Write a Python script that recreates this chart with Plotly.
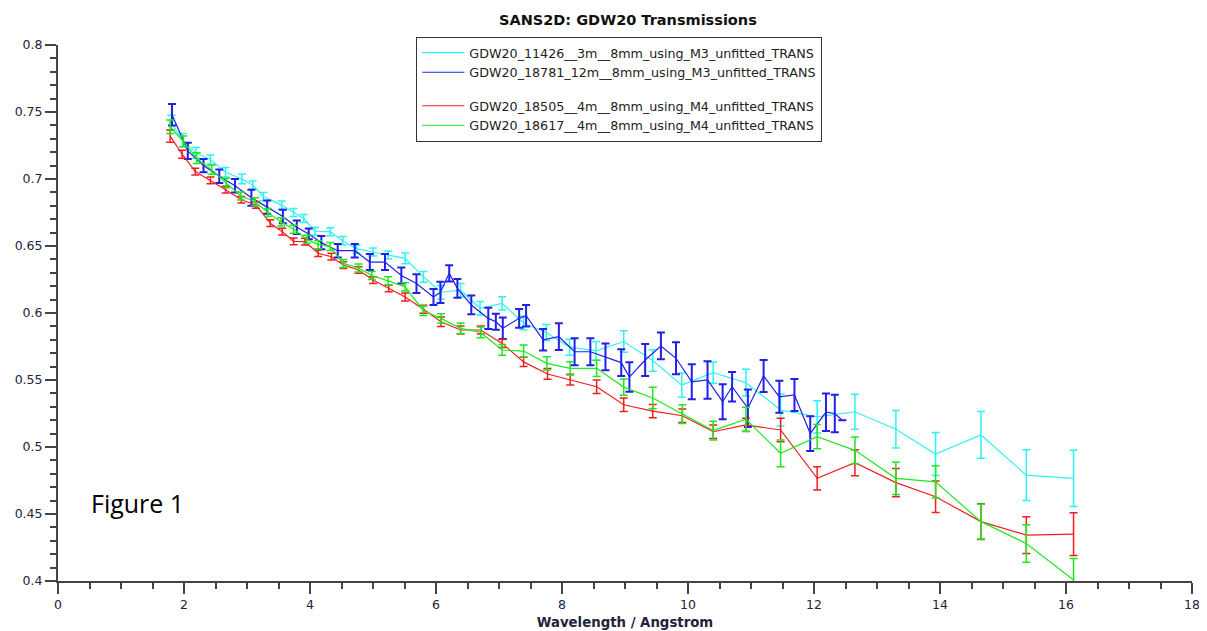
import plotly.graph_objects as go

# GDW20_11426__3m (cyan)
wl_11426 = [1.80, 1.98, 2.19, 2.42, 2.66, 2.92, 3.09, 3.26, 3.55, 3.74, 3.90, 4.08, 4.32, 4.52,
            4.74, 5.00, 5.24, 5.51, 5.80, 6.08, 6.39, 6.70, 7.05, 7.39, 7.75, 8.12, 8.54, 8.98,
            9.44, 9.90, 10.40, 10.92, 11.47, 12.05, 12.65, 13.30, 13.93, 14.65, 15.37, 16.12]
tr_11426 = [0.742, 0.729, 0.7195, 0.7145, 0.705, 0.700, 0.6955, 0.687, 0.6805, 0.675, 0.6705, 0.661,
            0.6607, 0.654, 0.6478, 0.6455, 0.6433, 0.6408, 0.627, 0.6155, 0.617, 0.6035, 0.6072,
            0.5925, 0.5855, 0.5745, 0.5717, 0.5787, 0.5645, 0.5462, 0.5555, 0.548, 0.5276, 0.5225,
            0.5263, 0.5132, 0.4948, 0.509, 0.479, 0.4766]
err_11426 = [0.0056, 0.005, 0.004, 0.0035, 0.0035, 0.0035, 0.003, 0.003, 0.003, 0.003, 0.003, 0.003,
             0.003, 0.003, 0.003, 0.003, 0.003, 0.004, 0.004, 0.005, 0.005, 0.005, 0.005, 0.005,
             0.006, 0.006, 0.007, 0.008, 0.008, 0.009, 0.008, 0.010, 0.012, 0.012, 0.013, 0.014,
             0.016, 0.0174, 0.019, 0.021]

# GDW20_18781_12m (blue)
wl_18781 = [1.81, 2.06, 2.31, 2.56, 2.81, 3.07, 3.32, 3.57, 3.79, 3.98, 4.18, 4.44, 4.71, 4.95,
            5.19, 5.45, 5.69, 5.96, 6.07, 6.21, 6.34, 6.56, 6.83, 6.95, 7.06, 7.32, 7.43, 7.70,
            7.95, 8.20, 8.45, 8.69, 8.94, 9.07, 9.32, 9.57, 9.81, 10.06, 10.31, 10.55, 10.70,
            10.95, 11.20, 11.45, 11.69, 11.94, 12.19, 12.33, 12.45]
tr_18781 = [0.748, 0.721, 0.710, 0.702, 0.695, 0.686, 0.679, 0.672, 0.664, 0.659, 0.6525, 0.6465,
            0.6465, 0.638, 0.638, 0.628, 0.622, 0.612, 0.6154, 0.6296, 0.6184, 0.606, 0.596, 0.5935,
            0.5886, 0.596, 0.598, 0.580, 0.5823, 0.5711, 0.5711, 0.5672, 0.563, 0.5522, 0.5649,
            0.5754, 0.5662, 0.5487, 0.550, 0.5338, 0.545, 0.529, 0.553, 0.5375, 0.5388, 0.510,
            0.526, 0.525, 0.520]
err_18781 = [0.008, 0.006, 0.005, 0.005, 0.005, 0.006, 0.005, 0.005, 0.005, 0.004, 0.005, 0.005,
             0.005, 0.006, 0.006, 0.006, 0.007, 0.006, 0.008, 0.006, 0.007, 0.007, 0.008, 0.006,
             0.008, 0.007, 0.008, 0.008, 0.010, 0.010, 0.010, 0.010, 0.010, 0.011, 0.012, 0.010,
             0.012, 0.013, 0.014, 0.013, 0.011, 0.014, 0.012, 0.012, 0.012, 0.013, 0.014, 0.014,
             0.0]

# GDW20_18505__4m (red)
wl_18505 = [1.78, 1.97, 2.18, 2.42, 2.66, 2.91, 3.14, 3.37, 3.56, 3.74, 3.92, 4.13, 4.34, 4.53,
            4.77, 5.00, 5.25, 5.51, 5.80, 6.08, 6.39, 6.71, 7.05, 7.39, 7.77, 8.13, 8.55, 8.98,
            9.44, 9.91, 10.40, 10.92, 11.47, 12.05, 12.65, 13.30, 13.93, 14.65, 15.37, 16.12]
tr_18505 = [0.732, 0.7185, 0.7055, 0.699, 0.692, 0.6845, 0.6806, 0.667, 0.6607, 0.6535, 0.6532,
            0.6446, 0.642, 0.6358, 0.6321, 0.6246, 0.6184, 0.612, 0.6028, 0.5935, 0.5873, 0.5873,
            0.5773, 0.5635, 0.5545, 0.5503, 0.545, 0.5315, 0.5268, 0.5233, 0.5114, 0.5165, 0.5127,
            0.4766, 0.4883, 0.4734, 0.4629, 0.4443, 0.4343, 0.435]
err_18505 = [0.0045, 0.003, 0.0025, 0.0025, 0.0025, 0.0025, 0.0025, 0.0025, 0.0025, 0.0025, 0.0025,
             0.0025, 0.0025, 0.0025, 0.0025, 0.0025, 0.0025, 0.003, 0.003, 0.0035, 0.003, 0.003,
             0.003, 0.0035, 0.004, 0.004, 0.005, 0.005, 0.005, 0.005, 0.005, 0.005, 0.0087, 0.0087,
             0.0097, 0.0106, 0.0118, 0.0134, 0.0137, 0.016]

# GDW20_18617__4m (green)
wl_18617 = [1.78, 1.99, 2.20, 2.44, 2.67, 2.90, 3.13, 3.33, 3.54, 3.74, 3.95, 4.13, 4.32, 4.53,
            4.77, 4.98, 5.24, 5.51, 5.80, 6.08, 6.39, 6.71, 7.05, 7.39, 7.76, 8.13, 8.55, 8.98,
            9.44, 9.91, 10.40, 10.92, 11.47, 12.05, 12.65, 13.30, 13.93, 14.65, 15.37, 16.12]
tr_18617 = [0.739, 0.728, 0.7155, 0.707, 0.697, 0.6873, 0.683, 0.675, 0.668, 0.6625, 0.655, 0.651,
            0.6497, 0.637, 0.6336, 0.628, 0.624, 0.6195, 0.6017, 0.596, 0.5885, 0.5855, 0.5724,
            0.5716, 0.5624, 0.5587, 0.5587, 0.5447, 0.5366, 0.5246, 0.5122, 0.5207, 0.4953,
            0.5077, 0.4975, 0.4766, 0.474, 0.4443, 0.428, 0.4007]
err_18617 = [0.005, 0.004, 0.004, 0.0035, 0.0035, 0.003, 0.003, 0.003, 0.003, 0.003, 0.003, 0.003,
             0.003, 0.003, 0.003, 0.003, 0.003, 0.003, 0.0035, 0.0035, 0.004, 0.004, 0.004, 0.0045,
             0.005, 0.005, 0.006, 0.006, 0.008, 0.007, 0.007, 0.009, 0.010, 0.009, 0.010, 0.012,
             0.012, 0.013, 0.014, 0.016]

series = [
    ("GDW20_11426__3m__8mm_using_M3_unfitted_TRANS", wl_11426, tr_11426, err_11426, "#2ef2f2", "g1", 1.5),
    ("GDW20_18781_12m__8mm_using_M3_unfitted_TRANS", wl_18781, tr_18781, err_18781, "#2020e8", "g1", 2),
    ("GDW20_18505__4m__8mm_using_M4_unfitted_TRANS", wl_18505, tr_18505, err_18505, "#f21e1e", "g2", 1.5),
    ("GDW20_18617__4m__8mm_using_M4_unfitted_TRANS", wl_18617, tr_18617, err_18617, "#1ee81e", "g2", 1.5),
]

fig = go.Figure()
for name, x, y, e, col, grp, thick in series:
    fig.add_trace(go.Scatter(
        x=x, y=y, name=name, mode="lines", legendgroup=grp,
        line=dict(color=col, width=1.2),
        error_y=dict(type="data", array=e, visible=True, color=col, thickness=thick, width=4),
    ))

axis_common = dict(
    showgrid=False, zeroline=False, showline=True, linecolor="#444444", linewidth=2,
    ticks="outside", ticklen=11, tickwidth=2, tickcolor="#444444", mirror=False,
    automargin=False,
    tickfont=dict(family="DejaVu Sans", size=12.5, color="#22223a"),
)

fig.update_xaxes(range=[0, 18], dtick=2, tick0=0,
                 minor=dict(dtick=0.5, ticks="outside", ticklen=6, tickwidth=2, tickcolor="#444444"),
                 title=dict(text="<b>Wavelength / Angstrom</b>", standoff=7,
                            font=dict(family="DejaVu Sans", size=13.3, color="#22223a")),
                 **axis_common)
fig.update_yaxes(range=[0.4, 0.8], dtick=0.05, tick0=0.4,
                 minor=dict(dtick=0.01, ticks="outside", ticklen=6, tickwidth=2, tickcolor="#444444"),
                 **axis_common)

fig.add_annotation(text="Figure 1", x=1.26, y=0.458, xref="x", yref="y", showarrow=False,
                   font=dict(family="Open Sans", size=25, color="#000000"))

# the page body adds an 8px margin, so the figure is 8px smaller than the window
fig.update_layout(
    width=1199, height=623,
    margin=dict(l=50, r=15, t=37, b=50, autoexpand=False),
    plot_bgcolor="white", paper_bgcolor="white",
    title=dict(text="<b>SANS2D: GDW20 Transmissions</b>", x=0.517, xanchor="center",
               y=1 - 12 / 623, yanchor="middle",
               font=dict(family="DejaVu Sans", size=14.5, color="#111111")),
    legend=dict(x=0.316, y=1.015, xanchor="left", yanchor="top",
                bordercolor="#333333", borderwidth=1, bgcolor="white",
                font=dict(family="DejaVu Sans", size=12.7, color="#222222"),
                itemwidth=42, tracegroupgap=14),
    showlegend=True,
)

fig.write_html("out.html")
